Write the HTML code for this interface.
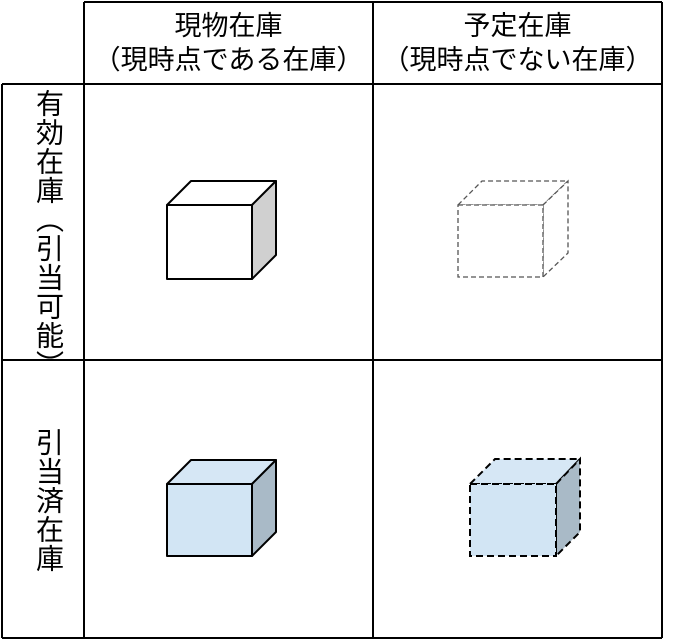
<!DOCTYPE html>
<html><head><meta charset="utf-8"><style>
body{margin:0;width:679px;height:640px;background:#fff;position:relative;overflow:hidden;font-family:"Liberation Sans","Noto Sans CJK JP",sans-serif;color:#000}
.t{position:absolute;text-align:center;font-size:27px;line-height:34px;white-space:nowrap}
.v{position:absolute;writing-mode:vertical-rl;font-size:28px;line-height:30px;letter-spacing:1px;white-space:nowrap}
</style></head><body>
<svg width="679" height="640" style="position:absolute;left:0;top:0">
<g stroke="#000" stroke-width="2" fill="none">
<line x1="84" y1="2" x2="662" y2="2"/>
<line x1="2" y1="84" x2="662" y2="84"/>
<line x1="2" y1="360" x2="662" y2="360"/>
<line x1="2" y1="638" x2="662" y2="638"/>
<line x1="2" y1="84" x2="2" y2="638"/>
<line x1="84" y1="2" x2="84" y2="638"/>
<line x1="373" y1="2" x2="373" y2="638"/>
<line x1="662" y1="2" x2="662" y2="638"/>
</g>
<g stroke="#000" stroke-width="2" stroke-linejoin="round">
<polygon points="167,205 191,181 276,181 252,205" fill="#fff"/>
<polygon points="252,205 276,181 276,255 252,279" fill="#d0d0d0"/>
<rect x="167" y="205" width="85" height="74" fill="#fff"/>
</g>
<g stroke="#555" stroke-width="1.3" stroke-dasharray="5,3" fill="#fff">
<polygon points="458,205 482,181 568,181 543,205"/>
<polygon points="543,205 568,181 568,253 543,277"/>
<rect x="458" y="205" width="85" height="72"/>
</g>
<g stroke="#000" stroke-width="2" stroke-linejoin="round">
<polygon points="167,484 191,460 276,460 252,484" fill="#d6e7f5"/>
<polygon points="252,484 276,460 276,532 252,556" fill="#a9bac7"/>
<rect x="167" y="484" width="85" height="72" fill="#d2e5f4"/>
</g>
<g stroke="#000" stroke-width="2" stroke-dasharray="7,4" fill="#d6e7f5">
<polygon points="470,484 495,459 580,459 556,484"/>
<polygon points="556,484 580,459 580,532 556,556" fill="#a9bac7"/>
<rect x="470" y="484" width="86" height="72" fill="#d2e5f4"/>
</g>
</svg>
<div class="t" style="left:84px;width:289px;top:9px">現物在庫</div>
<div class="t" style="left:84px;width:289px;top:43px">（現時点である在庫）</div>
<div class="t" style="left:373px;width:289px;top:9px">予定在庫</div>
<div class="t" style="left:373px;width:289px;top:43px">（現時点でない在庫）</div>
<div class="v" style="left:33px;top:89px">有効在庫（引当可能）</div>
<div class="v" style="left:33px;top:428px">引当済在庫</div>
</body></html>
